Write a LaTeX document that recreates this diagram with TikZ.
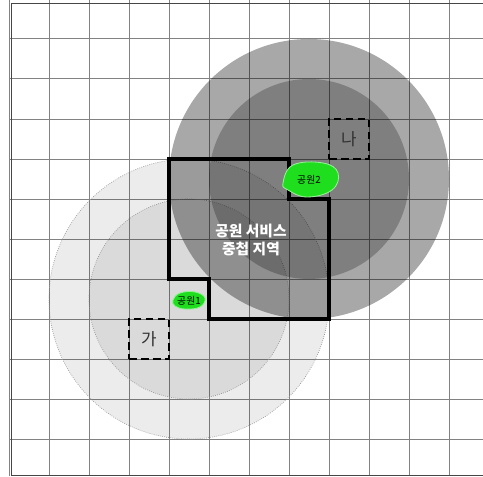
\documentclass[tikz,border=0pt]{standalone}
\usepackage{fontspec}
\setmainfont{Noto Sans CJK KR}
\newfontfamily\krfont{Noto Sans CJK KR}
\usetikzlibrary{positioning}
\definecolor{gridgray}{RGB}{130,130,130}
\definecolor{framegray}{RGB}{70,70,70}
\definecolor{rimgray}{RGB}{150,150,150}
\definecolor{parkgreen}{RGB}{30,222,30}
\definecolor{parkrim}{RGB}{150,240,150}
\definecolor{labelgray}{RGB}{50,50,50}
\begin{document}
\begin{tikzpicture}[x=1cm,y=1cm,
    gridline/.style={gridgray,line width=0.7pt},
    frameline/.style={framegray,line width=0.7pt},
    lightzone/.style={fill=black,fill opacity=0.075,draw=rimgray,densely dotted,line width=0.5pt},
    darkzone/.style={fill=black,fill opacity=#1},
    overlapline/.style={black,line width=2.2pt,line join=miter},
    housebox/.style={draw=black,line width=2.1pt,dash pattern=on 5.5pt off 3pt,
      minimum size=1cm,inner sep=0pt,text=labelgray,font=\krfont\fontsize{12}{14}\selectfont},
    parkblob/.style={fill=parkgreen,draw=parkrim,line width=0.6pt},
    parklabel/.style={font=\krfont\fontsize{7}{8}\selectfont,inner sep=0pt}]
\useasboundingbox (-0.225,0.075) rectangle (11.85,11.975);
\fill[white] (-0.225,0.075) rectangle (11.85,11.975);
% ---------------- grid ----------------
\foreach \gx in {0,...,11}
  \draw[gridline] (\gx,0.075) -- (\gx,11.975);
\foreach \gy in {1,...,11}
  \draw[gridline] (0,\gy) -- (11.85,\gy);
\draw[frameline] (11.85,11.89) -- (0.06,11.89) -- (0.06,0.1) -- (11.85,0.1);
% ---------------- service areas ----------------
\path[lightzone] (4.5,4.5) circle (3.5);
\path[lightzone] (4.5,4.5) circle (2.5);
\path[darkzone=0.34] (7.5,7.5) circle (3.5);
\path[darkzone=0.24] (7.5,7.5) circle (2.5);
% overlapping zone
\draw[overlapline] (4,8) -- (7,8) -- (7,7) -- (8,7) -- (8,4) -- (5,4) -- (5,5) -- (4,5) -- cycle;
% ---------------- houses ----------------
\node[housebox] (ga) at (3.5,3.5) {가};
\node[housebox] (na) at (8.5,8.5) {나};
% ---------------- parks ----------------
\draw[parkblob] plot[smooth cycle,tension=0.7] coordinates
  {(6.85,7.4) (7.1,7.85) (7.85,7.9) (8.225,7.65) (8.075,7.225) (7.45,7.05) (6.975,7.225)};
\node[parklabel] (park2) at (7.5,7.48) {공원2};
\draw[parkblob] plot[smooth cycle,tension=0.7] coordinates
  {(4.1,4.475) (4.275,4.65) (4.65,4.675) (4.9,4.525) (4.775,4.3) (4.4,4.25) (4.15,4.325)};
\node[parklabel] (park1) at (4.5,4.46) {공원1};
% label of the overlap
\node[white,align=center,font=\krfont\bfseries\fontsize{10.5}{13}\selectfont] (overlap) at (6.05,5.98)
  {공원 서비스\\중첩 지역};
\end{tikzpicture}
\end{document}
